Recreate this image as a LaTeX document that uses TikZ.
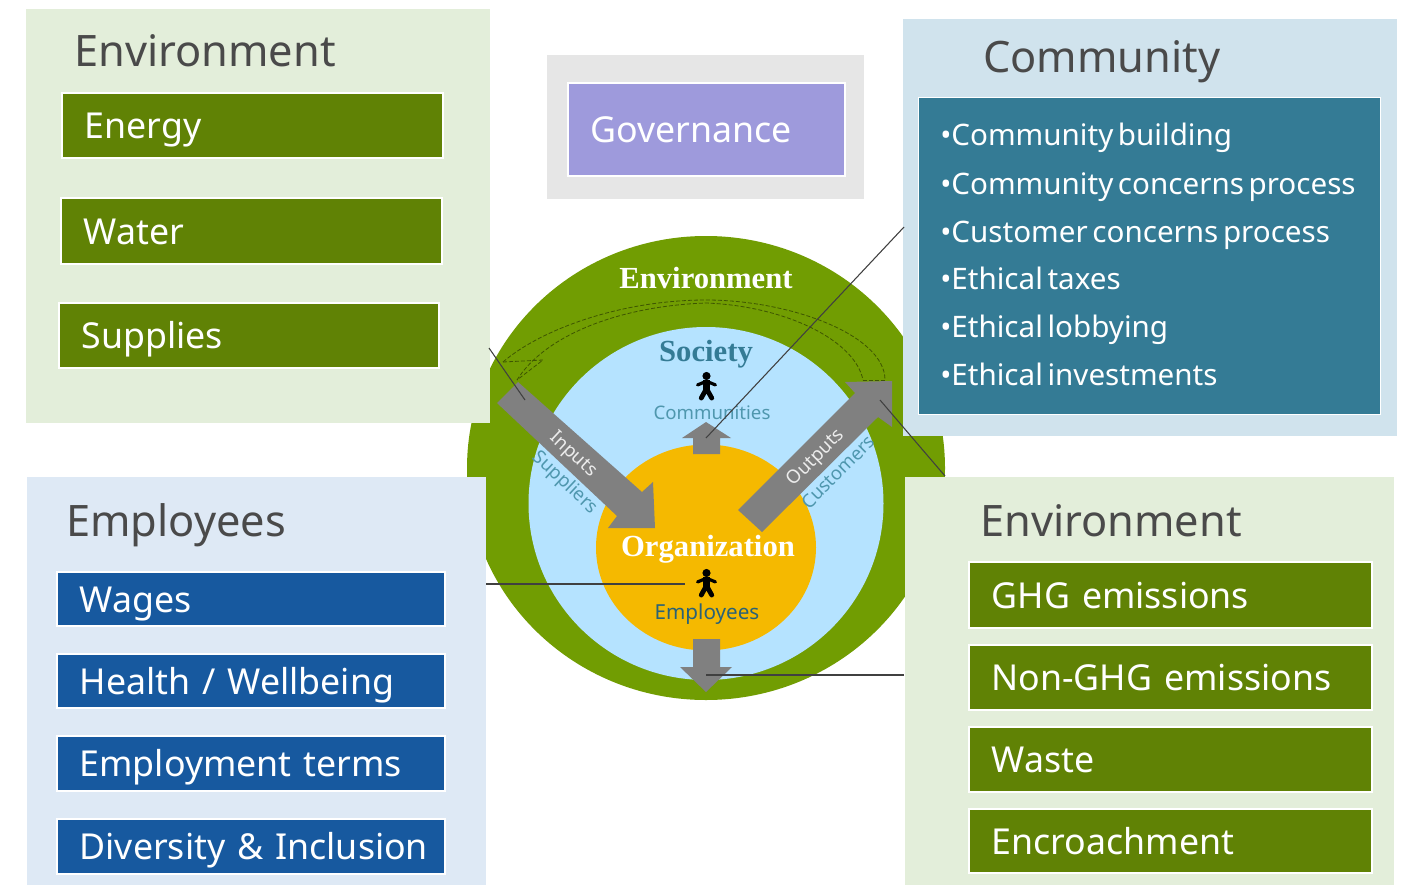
\documentclass[tikz,border=0pt]{standalone}
\usepackage{fontspec}
\setmainfont{Noto Sans}
\newfontfamily\serifb{Liberation Serif}
\newfontfamily\bulletfont[WordSpace=0.6]{Noto Sans}
\usetikzlibrary{calc}
\definecolor{envpanel}{HTML}{E3EEDA}
\definecolor{envbox}{HTML}{608205}
\definecolor{emppanel}{HTML}{DEE9F5}
\definecolor{empbox}{HTML}{17599F}
\definecolor{companel}{HTML}{D0E3ED}
\definecolor{combox}{HTML}{347B95}
\definecolor{govpanel}{HTML}{E6E6E6}
\definecolor{govbox}{HTML}{9E9ADC}
\definecolor{ring}{HTML}{719D02}
\definecolor{sky}{HTML}{B5E3FF}
\definecolor{org}{HTML}{F5B900}
\definecolor{arrowgray}{HTML}{808080}
\definecolor{titlegray}{HTML}{4A4A4A}
\definecolor{teal}{HTML}{4F97AE}
\tikzset{
  panel/.style={draw=none,inner sep=0pt,anchor=north west},
  itembox/.style={draw=white,line width=1.4pt,inner sep=0pt,anchor=north west,text=white,font=\fontsize{26.8}{27}\selectfont,align=left,text depth=0pt},
  title/.style={anchor=base west,inner sep=0pt,text=titlegray,font=\fontsize{32.5}{33}\selectfont},
  bullet/.style={anchor=base west,inner sep=0pt,text=white,font=\bulletfont\fontsize{22.2}{23}\selectfont},
  serifw/.style={inner sep=0pt,font=\serifb\bfseries\fontsize{23}{23}\selectfont,text=white},
  small/.style={inner sep=0pt,text=teal,font=\fontsize{14}{14}\selectfont},
  thinline/.style={draw=black!75,line width=0.8pt},
  dashline/.style={draw=black!45!ring,line width=0.6pt,dash pattern=on 3pt off 1.5pt},
  garrow/.style={fill=arrowgray,draw=none}
}
\newcommand{\pbox}[7]{% name, x, y, w, h, fill, text
  \node[itembox,fill=#6,minimum width=#4*0.75pt,minimum height=#5*0.75pt,text width=#4*0.75pt-2pt,text height=20pt] (#1) at (#2,#3) {\hspace*{16pt}#7};
}
\newcommand{\person}[3]{% x,y,scale
  \begin{scope}[shift={(#1,#2)},scale=#3]
    \fill[black] (0,-10) circle (3.9);
    \draw[black,line width=2.4pt,line cap=round,line join=round] (-8.5,-1.5) -- (0,-5) -- (8.5,-1.5);
    \draw[black,line width=5.2pt,line cap=butt,line join=round] (0,-6) -- (0,4);
    \draw[black,line width=3.6pt,line cap=round,line join=round] (-5,11) -- (0,2) -- (5,11);
  \end{scope}
}
\begin{document}
\begin{tikzpicture}[x=0.75pt,y=-0.75pt]
\useasboundingbox (0,0) rectangle (1407,885);
\fill[white] (0,0) rectangle (1407,885);
% rings
\fill[ring] (706,468) ellipse [x radius=239,y radius=232];
\fill[sky] (706,503.5) ellipse [x radius=177.5,y radius=176.5];
\fill[org] (706,547.5) ellipse [x radius=110,y radius=103];
\node[serifw] (envlabel) at (706,278) {Environment};
\node[inner sep=0pt,font=\serifb\bfseries\fontsize{23}{23}\selectfont,text=combox] (soclabel) at (706,354) {Society};
\node[serifw] (orglabel) at (708,549) {Organization};
\node[small] (commlabel) at (712,413) {Communities};
\node[small,text=combox!80!black,font=\fontsize{15.5}{15.5}\selectfont] (emplabel) at (707,614) {Employees};
\person{706.5}{386.5}{1.05}
\person{706.5}{583.5}{1.05}
% dashed arcs
\draw[dashline] (503,362) .. controls (540,330) and (620,300) .. (706,300) .. controls (790,300) and (885,335) .. (885,380);
\draw[dashline] (517,380) .. controls (545,335) and (620,306) .. (706,303) .. controls (785,306) and (855,340) .. (863,380);
\draw[dashline] (503,362) -- (543,360) -- (517,380);
\draw[dashline] (863,380) -- (885,380);
% arrows
\fill[garrow] (497,403) -- (518,382) -- (642,492) -- (653,482) -- (655,528) -- (608,528) -- (617,516) -- cycle;
\fill[garrow] (738,510) -- (855,393) -- (845,382) -- (892,381) -- (892,427) -- (878,417) -- (762,532) -- cycle;
\fill[garrow] (693,454) -- (693,438) -- (682,438) -- (706,422) -- (731,438) -- (720,438) -- (720,454) -- cycle;
\fill[garrow] (693,639) -- (720,639) -- (720,667) -- (732,667) -- (706,692) -- (680,667) -- (693,667) -- cycle;
\node[inner sep=0pt,text=white!85!gray,rotate=-43,font=\fontsize{14}{14}\selectfont] (inlabel) at (573,455) {Inputs};
\node[inner sep=0pt,text=white!85!gray,rotate=45,font=\fontsize{14}{14}\selectfont] (outlabel) at (816,458) {Outputs};
\node[small,rotate=-43] (suplabel) at (565,483) {Suppliers};
\node[small,rotate=45] (cuslabel) at (838,472) {Customers};
% panels
\node[panel,fill=envpanel,minimum width=464*0.75pt,minimum height=414*0.75pt] (envA) at (26,9) {};
\node[panel,fill=emppanel,minimum width=459*0.75pt,minimum height=408*0.75pt] (emp) at (27,477) {};
\node[panel,fill=envpanel,minimum width=489*0.75pt,minimum height=408*0.75pt] (envB) at (905,477) {};
\node[panel,fill=companel,minimum width=494*0.75pt,minimum height=417*0.75pt] (com) at (903,19) {};
\node[panel,fill=govpanel,minimum width=317*0.75pt,minimum height=144*0.75pt] (gov) at (547,55) {};
% titles
\node[title] (t1) at (74,66) {Environment};
\node[title] (t2) at (983,72) {Community};
\node[title] (t3) at (66,536) {Employees};
\node[title] (t4) at (980,536) {Environment};
% left env
\pbox{a1}{61}{92}{381}{65}{envbox}{Energy}
\pbox{a2}{60}{197}{381}{66}{envbox}{Water}
\pbox{a3}{58}{302}{380}{65}{envbox}{Supplies}
% governance
\pbox{g1}{567}{82}{277}{93}{govbox}{Governance}
% employees
\pbox{b1}{56}{571}{388}{54}{empbox}{Wages}
\pbox{b2}{56}{653}{388}{54}{empbox}{Health / Wellbeing}
\pbox{b3}{56}{735}{388}{55}{empbox}{Employment terms}
\pbox{b4}{56}{818}{388}{55}{empbox}{Diversity \& Inclusion}
% right env
\pbox{c1}{968}{561}{403}{66}{envbox}{GHG emissions}
\pbox{c2}{968}{644}{403}{65}{envbox}{Non-GHG emissions}
\pbox{c3}{968}{726}{403}{65}{envbox}{Waste}
\pbox{c4}{968}{808}{403}{64}{envbox}{Encroachment}
% community
\node[panel,fill=combox,draw=white,line width=1.4pt,minimum width=462*0.75pt,minimum height=317*0.75pt] (cbox) at (917.5,96.5) {};
\node[bullet] (d1) at (940,145) {•Community building};
\node[bullet] (d2) at (940,194) {•Community concerns process};
\node[bullet] (d3) at (940,242) {•Customer concerns process};
\node[bullet] (d4) at (940,289) {•Ethical taxes};
\node[bullet] (d5) at (940,337) {•Ethical lobbying};
\node[bullet] (d6) at (940,385) {•Ethical investments};
% leader lines
\coordinate (l1a) at (489,348); \coordinate (l1b) at (525,400);
\coordinate (l2a) at (904,227); \coordinate (l2b) at (706,438);
\coordinate (l3a) at (880,400); \coordinate (l3b) at (945,476);
\coordinate (l4a) at (486,584); \coordinate (l4b) at (685,584);
\coordinate (l5a) at (904,675); \coordinate (l5b) at (706,675);
\draw[thinline] (l1a) -- (l1b);
\draw[thinline] (l2a) -- (l2b);
\draw[thinline] (l3a) -- (l3b);
\draw[thinline] (l4a) -- (l4b);
\draw[thinline] (l5a) -- (l5b);
\end{tikzpicture}
\end{document}
